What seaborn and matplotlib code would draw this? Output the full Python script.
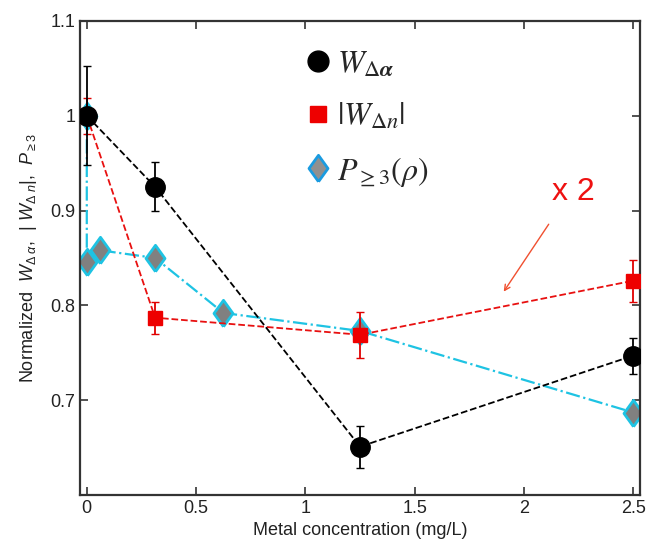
import numpy as np
import pandas as pd
import matplotlib
matplotlib.use("Agg")
import matplotlib.pyplot as plt
from matplotlib.lines import Line2D
from matplotlib.ticker import FuncFormatter
import seaborn as sns

# data
x_alpha = [0, 0.3125, 1.25, 2.5]
w_alpha = [1.0, 0.925, 0.651, 0.747]
w_alpha_err = [0.052, 0.026, 0.022, 0.019]

x_n = [0, 0.3125, 1.25, 2.5]
w_n = [1.0, 0.787, 0.769, 0.826]
w_n_err = [0.019, 0.017, 0.024, 0.022]

x_p = [0, 0, 0.0625, 0.3125, 0.625, 1.25, 2.5]
p_ge3 = [1.0, 0.846, 0.858, 0.850, 0.792, 0.773, 0.687]

sns.set_style("ticks")
plt.rcParams["font.family"] = ["Liberation Sans", "DejaVu Sans"]
plt.rcParams["mathtext.fontset"] = "custom"
plt.rcParams["mathtext.rm"] = "Liberation Sans"
plt.rcParams["mathtext.it"] = "Liberation Sans:italic"

fig = plt.figure(figsize=(6.47, 5.5), dpi=100)
ax = fig.add_axes([0.124, 0.1, 0.865, 0.862])

cyan = "#1ec3e3"
diamond = [(0, -1), (0.72, 0), (0, 1), (-0.72, 0), (0, -1)]

# P>=3 series (drawn first, underneath)
sns.lineplot(x=x_p, y=p_ge3, ax=ax, estimator=None, sort=False,
             color=cyan, linestyle="-.", linewidth=1.6, marker=diamond,
             markersize=19, markerfacecolor="#808080",
             markeredgecolor=cyan, markeredgewidth=2, zorder=2)

# |W_dn| series
ax.errorbar(x_n, w_n, yerr=w_n_err, fmt="none", ecolor="#e00000",
            elinewidth=1.3, capsize=3, zorder=3)
sns.lineplot(x=x_n, y=w_n, ax=ax, estimator=None, sort=False,
             color="#e81010", linestyle="--", linewidth=1.3, zorder=3)
ax.plot(x_n, w_n, ls="none", marker="s", markersize=10,
        color="#ee0000", zorder=4)

# W_dalpha series
ax.errorbar(x_alpha, w_alpha, yerr=w_alpha_err, fmt="none", ecolor="black",
            elinewidth=1.3, capsize=3, zorder=3)
sns.lineplot(x=x_alpha, y=w_alpha, ax=ax, estimator=None, sort=False,
             color="black", linestyle="--", linewidth=1.3, zorder=3)
ax.plot(x_alpha, w_alpha, ls="none", marker="o", markersize=14,
        color="black", zorder=4)

ax.set_xlim(-0.03, 2.53)
ax.set_ylim(0.6, 1.1)
ax.set_xticks([0, 0.5, 1, 1.5, 2, 2.5])
ax.set_yticks([0.7, 0.8, 0.9, 1.0, 1.1])
fmt = FuncFormatter(lambda v, p: "%g" % round(v, 2))
ax.xaxis.set_major_formatter(fmt)
ax.yaxis.set_major_formatter(fmt)
ax.tick_params(direction="in", top=True, right=True, length=6,
               width=1.2, labelsize=13, colors="#333333", labelcolor="#222222")
for s in ax.spines.values():
    s.set_visible(True)
    s.set_linewidth(1.6)
    s.set_color("#333333")

ax.set_xlabel("Metal concentration (mg/L)", fontsize=13, color="#222222")
ax.set_ylabel(r"Normalized  $W_{\Delta\ \alpha}$,  $|\ W_{\Delta\ n}|$,  $P_{\geq 3}$",
              fontsize=13, color="#222222", labelpad=8)

# "x 2" annotation
ax.annotate("", xy=(1.9, 0.812), xytext=(2.12, 0.888),
            arrowprops=dict(arrowstyle="->", color="#f05030", lw=1))
ax.text(2.13, 0.92, "x 2", color="#ee1111", fontsize=23, ha="left", va="center")

handles = [
    Line2D([], [], ls="none", marker="o", markersize=15, color="black"),
    Line2D([], [], ls="none", marker="s", markersize=12, color="#ee0000"),
    Line2D([], [], ls="none", marker=diamond, markersize=19,
           markerfacecolor="#909090", markeredgecolor="#1a9be0", markeredgewidth=2),
]
labels = [r"$W_{\Delta\boldsymbol{\alpha}}$", r"$|W_{\Delta n}|$", r"$P_{\geq 3}(\rho)$"]
ax.legend(handles, labels, loc="upper left", bbox_to_anchor=(0.345, 1.0),
          frameon=False, prop={"size": 23, "math_fontfamily": "stix"},
          handletextpad=0.1, labelspacing=0.7, handlelength=1.0)

fig.savefig("out.png", dpi=100)
